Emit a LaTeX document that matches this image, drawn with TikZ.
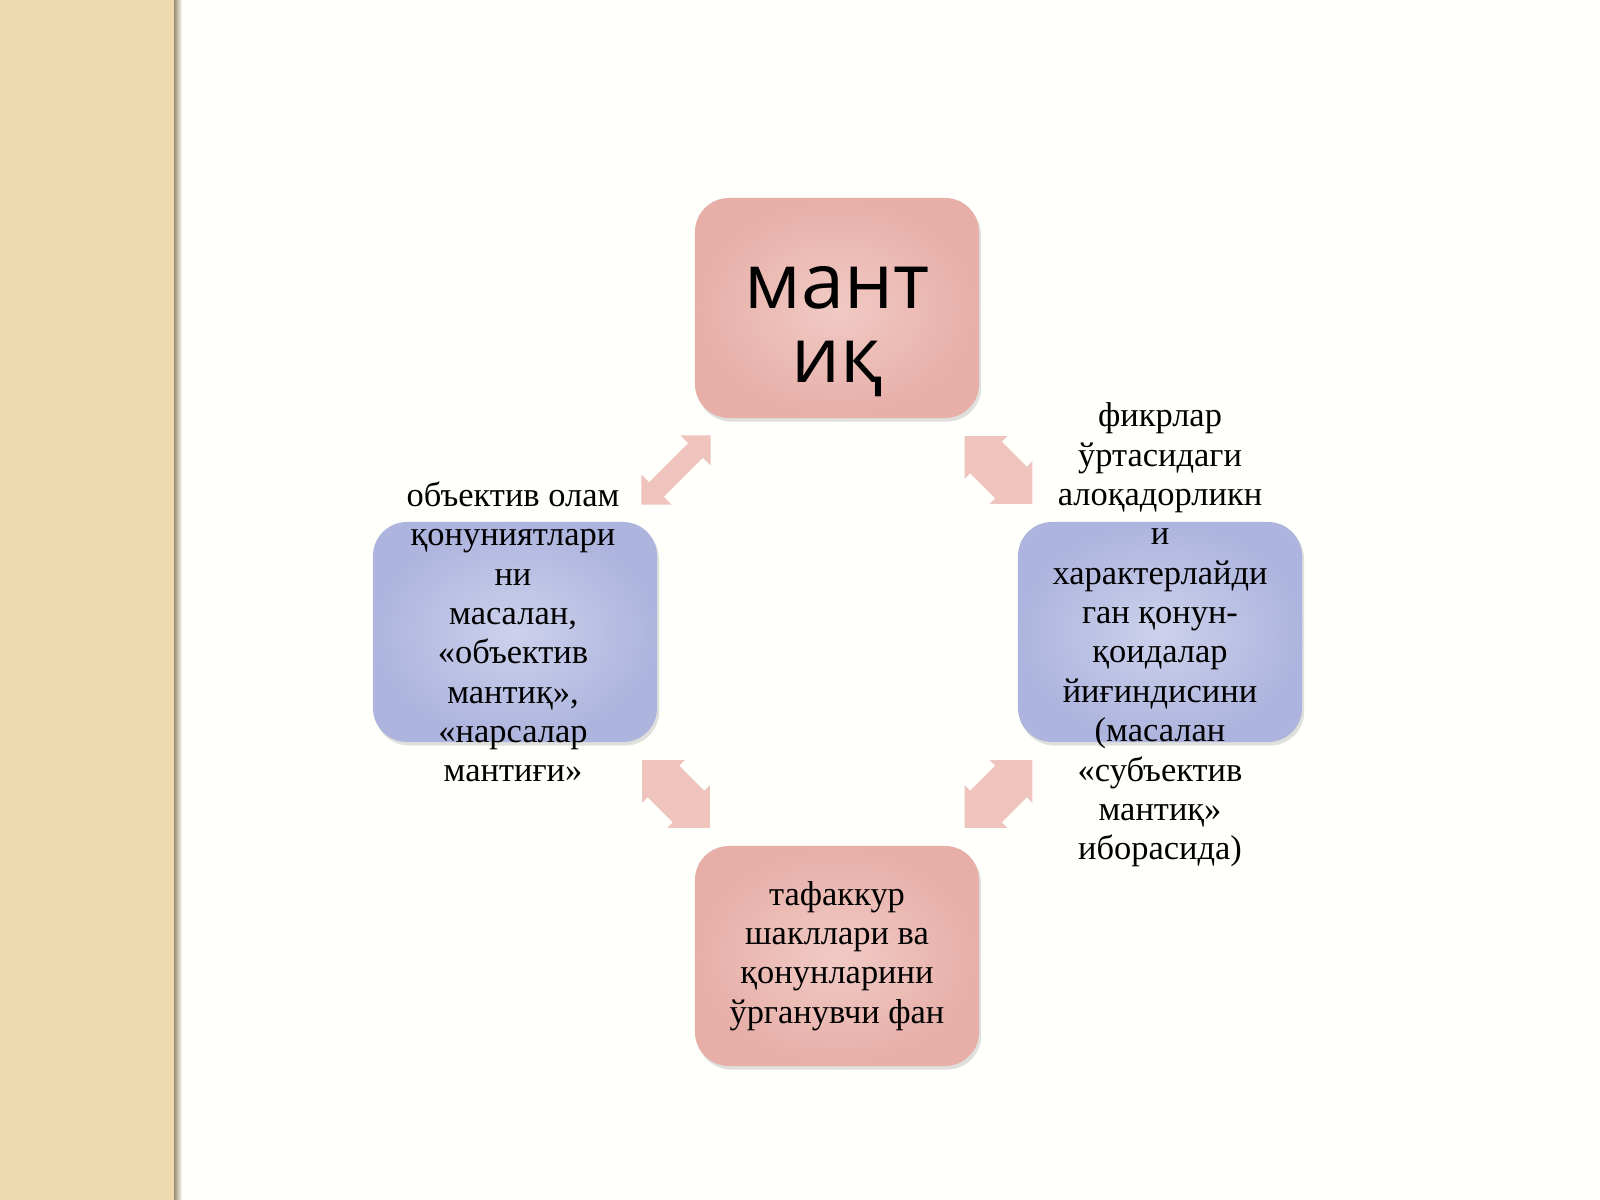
\documentclass[tikz,border=0pt]{standalone}
\usepackage{fontspec}
\setmainfont{Liberation Serif}
\newfontfamily\cimfont{Open Sans}
\usetikzlibrary{shapes.arrows,shadows,calc}
\definecolor{pirosszel}{HTML}{E7AFA8}
\definecolor{pirosbel}{HTML}{F1CAC4}
\definecolor{kekszel}{HTML}{ADB4DD}
\definecolor{kekbel}{HTML}{CDD1EC}
\definecolor{nyilszin}{HTML}{EEC4BD}
\definecolor{sav}{HTML}{EFD9AF}
\definecolor{lap}{HTML}{FFFFFB}

\begin{document}
\begin{tikzpicture}[x=0.025cm, y=-0.025cm,
    doboz/.style={rounded corners=0.85cm, minimum width=7.1cm, minimum height=5.5cm, inner sep=0pt,
        drop shadow={opacity=0.25, shadow xshift=1.5pt, shadow yshift=-2.5pt}},
    piros/.style={doboz, inner color=pirosbel, outer color=pirosszel},
    kek/.style={doboz, inner color=kekbel, outer color=kekszel},
    szoveg/.style={align=center, font=\fontsize{24.5}{28}\selectfont},
    nyil/.style={double arrow, fill=nyilszin, inner sep=0pt, inner ysep=0.55cm,
        double arrow head extend=0.2cm, minimum height=2.4cm}]
    %hatter es a bal oldali sav
    \fill[lap] (0,0) rectangle (1600,1200);
    \fill[sav] (0,0) rectangle (175,1200);
    \shade[left color=black!35!sav, right color=lap] (174,0) rectangle (182,1200);
    \useasboundingbox (0,0) rectangle (1600,1200);
    %a negy doboz
    \node[piros] (mantiq) at (837,308) {};
    \node[kek] (objektiv) at (515,632) {};
    \node[kek] (subjektiv) at (1160,632) {};
    \node[piros, szoveg] (tafakkur) at (837,956) {тафаккур\\шакллари ва\\қонунларини\\ўрганувчи фан};
    \node[align=center, font=\cimfont\fontsize{55}{52.6}\selectfont] (cim) at ([yshift=-17pt]mantiq.center) {мант\\иқ};
    %a szovegek kilognak a dobozokbol
    \node[szoveg] (objszoveg) at (513,632) {объектив олам\\қонуниятлари\\ни\\масалан,\\«объектив\\мантиқ»,\\«нарсалар\\мантиғи»};
    \node[szoveg] (subszoveg) at (1160,635) {фикрлар\\ўртасидаги\\алоқадорликн\\и\\характерлайди\\ган қонун-\\қоидалар\\йиғиндисини\\(масалан\\«субъектив\\мантиқ»\\иборасида)};
    %nyilak a dobozok kozott
    \node[nyil, rotate=45, inner ysep=0.25cm, double arrow head extend=0.275cm, minimum height=2.45cm] (nyil1) at ($(mantiq)!0.5!(objektiv)$) {};
    \node[nyil, rotate=-45] (nyil2) at ($(mantiq)!0.5!(subjektiv)$) {};
    \node[nyil, rotate=-45] (nyil3) at ($(objektiv)!0.5!(tafakkur)$) {};
    \node[nyil, rotate=45] (nyil4) at ($(subjektiv)!0.5!(tafakkur)$) {};
\end{tikzpicture}
\end{document}
